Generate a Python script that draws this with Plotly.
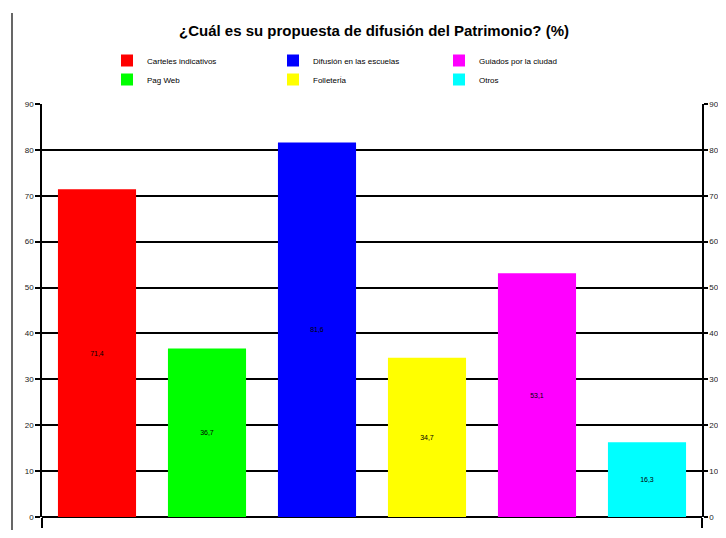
import plotly.graph_objects as go

categories = ["Carteles indicativos", "Pag Web", "Difusión en las escuelas",
              "Folleterĺa", "Guiados por la ciudad", "Otros"]
values = [71.4, 36.7, 81.6, 34.7, 53.1, 16.3]
colors = ["#FF0000", "#00FF00", "#0000FF", "#FFFF00", "#FF00FF", "#00FFFF"]
legend_ids = ["legend", "legend", "legend2", "legend2", "legend3", "legend3"]
y_ticks = [0, 10, 20, 30, 40, 50, 60, 70, 80, 90]

# figure is drawn inside an 8px page margin; keep it within the window
OFF = 8
W, H = 726 - 2 * OFF, 538 - 2 * OFF
L, T = 42 - OFF, 104 - OFF
R = W - (702 - OFF)
B = H - (517 - OFF)
PW, PH = W - L - R, H - T - B


def px_x(p):
    return (p - OFF - L) / PW


def px_y(p):
    return (H - B - (p - OFF)) / PH


fig = go.Figure()
for cat, val, col, lg in zip(categories, values, colors, legend_ids):
    fig.add_trace(go.Bar(
        x=[cat], y=[val], name=cat, marker=dict(color=col, line=dict(width=0)),
        width=0.71, texttemplate="%{y:.1f}", textposition="inside",
        insidetextanchor="middle", textangle=0,
        textfont=dict(family="Liberation Sans, Arial", size=7, color="#000000"),
        legend=lg,
    ))
# invisible trace for right axis
fig.add_trace(go.Scatter(x=categories, y=values, yaxis="y2", mode="markers",
                         marker=dict(opacity=0), showlegend=False, hoverinfo="skip"))

leg_common = dict(orientation="v", yanchor="top", xanchor="left",
                  font=dict(size=8, family="Liberation Sans, Arial"),
                  bgcolor="rgba(0,0,0,0)", tracegroupgap=0)
fig.update_layout(
    width=W, height=H,
    margin=dict(l=L, r=R, t=T, b=B),
    paper_bgcolor="white", plot_bgcolor="white",
    barmode="overlay", separators=",.",
    font=dict(family="Liberation Sans, Arial", size=8, color="#000000"),
    title=dict(text="<b>¿Cuál es su propuesta de difusión del Patrimonio? (%)</b>",
               x=(374 - OFF) / W, xanchor="center", y=1 - (31 - OFF) / H,
               yanchor="middle",
               font=dict(family="Liberation Sans, Arial", size=15, color="#000000")),
    legend=dict(x=px_x(107), y=px_y(46), **leg_common),
    legend2=dict(x=px_x(273), y=px_y(46), **leg_common),
    legend3=dict(x=px_x(439), y=px_y(46), **leg_common),
    showlegend=True,
    xaxis=dict(showticklabels=False, ticks="outside", tickmode="array",
               tickvals=[-0.5, 5.5], ticklen=10, tickcolor="#000", tickwidth=1.5,
               showline=False, showgrid=False, zeroline=False, range=[-0.5, 5.5],
               automargin=False),
    yaxis=dict(range=[0, 90], tickvals=y_ticks, ticks="outside", ticklen=5,
               tickcolor="#000", tickwidth=1.5, showline=True, linecolor="#000",
               linewidth=1.5, showgrid=True, gridcolor="#000", gridwidth=1.5,
               zeroline=True, zerolinecolor="#000", zerolinewidth=2,
               tickfont=dict(size=8, color="#222"), automargin=False),
    yaxis2=dict(range=[0, 90], tickvals=y_ticks, overlaying="y", side="right",
                anchor="x", ticks="outside", ticklen=4, tickcolor="#000",
                tickwidth=1.5, showline=True, linecolor="#000", linewidth=1.5,
                showgrid=False, zeroline=False, tickfont=dict(size=8, color="#222"),
                automargin=False),
    shapes=[dict(type="line", xref="paper", yref="paper",
                 x0=px_x(12), x1=px_x(12), y0=px_y(560), y1=px_y(13),
                 line=dict(color="#000", width=1.2))],
)

fig.write_html("out.html")
